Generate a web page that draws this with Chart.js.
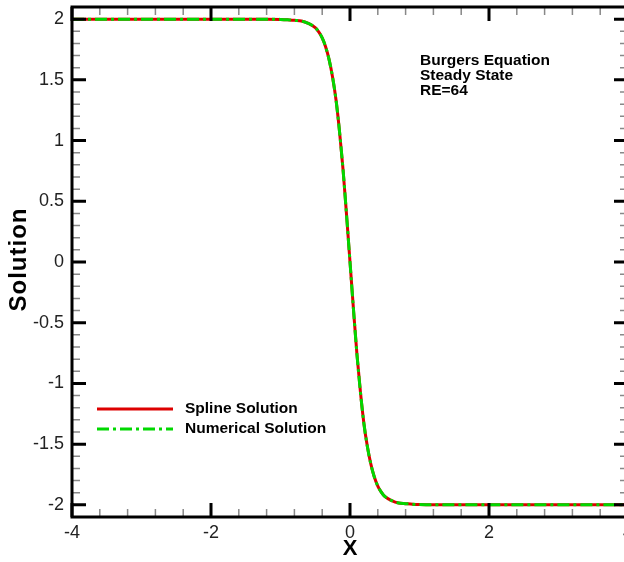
<!DOCTYPE html>
<html>
<head>
<meta charset="utf-8">
<script src="https://cdn.jsdelivr.net/npm/chart.js@4.4.1/dist/chart.umd.min.js"></script>
<style>
  html, body { margin: 0; padding: 0; background: #fff; overflow: hidden; }
  #wrap { position: relative; width: 640px; height: 562px; }
</style>
</head>
<body>
<div id="wrap"><canvas id="chart" width="640" height="562"></canvas></div>
<script>
// values
const xValues = [-4, -3, -2, -1.5, -1.2, -1.0, -0.9, -0.8, -0.7, -0.6, -0.5, -0.45, -0.4, -0.35, -0.3, -0.25, -0.2, -0.15, -0.1, -0.05,
    0, 0.05, 0.1, 0.15, 0.2, 0.25, 0.3, 0.35, 0.4, 0.45, 0.5, 0.6, 0.7, 0.8, 0.9, 1.0, 1.2, 1.5, 2, 3, 4];
const splineValues = [2, 2, 2, 2, 2, 1.998, 1.995, 1.99, 1.985, 1.965, 1.93, 1.895, 1.845, 1.77, 1.665, 1.52, 1.33, 1.07, 0.76, 0.39,
    0, -0.39, -0.76, -1.07, -1.33, -1.52, -1.665, -1.77, -1.845, -1.895, -1.93, -1.965, -1.985, -1.99, -1.995, -1.998, -2, -2, -2, -2, -2];
const numericalValues = [2, 2, 2, 2, 2, 1.998, 1.995, 1.99, 1.985, 1.965, 1.93, 1.895, 1.845, 1.77, 1.665, 1.52, 1.33, 1.07, 0.76, 0.39,
    0, -0.39, -0.76, -1.07, -1.33, -1.52, -1.665, -1.77, -1.845, -1.895, -1.93, -1.965, -1.985, -1.99, -1.995, -1.998, -2, -2, -2, -2, -2];
const xTicks = [-4, -2, 0, 2, 4];
const yTicks = [-2, -1.5, -1, -0.5, 0, 0.5, 1, 1.5, 2];
const seriesNames = ["Spline Solution", "Numerical Solution"];
const noteLines = ["Burgers Equation", "Steady State", "RE=64"];

const RED = "#dd0000";
const GREEN = "#00d800";
const GREEN_DASH = [12, 4, 3, 4];
const FONT = "'Liberation Sans', Arial, sans-serif";

function toPoints(values) {
    return xValues.map((x, i) => ({ x, y: values[i] }));
}

const framePlugin = {
    id: "frame",
    afterDraw(chart) {
        const ctx = chart.ctx;
        const area = chart.chartArea;
        const xs = chart.scales.x;
        const ys = chart.scales.y;
        ctx.save();

        // minor ticks
        ctx.strokeStyle = "#888";
        ctx.lineWidth = 1.5;
        ctx.beginPath();
        for (let i = 0; i <= 20; i++) {
            const v = -4 + i * 0.4;
            if (i % 5 === 0) continue;
            const px = xs.getPixelForValue(v);
            ctx.moveTo(px, area.bottom);
            ctx.lineTo(px, area.bottom - 8);
            ctx.moveTo(px, area.top);
            ctx.lineTo(px, area.top + 8);
        }
        for (let i = -21; i <= 21; i++) {
            if (i % 5 === 0) continue;
            const py = ys.getPixelForValue(i / 10);
            ctx.moveTo(area.left, py);
            ctx.lineTo(area.left + 8, py);
            ctx.moveTo(area.right, py);
            ctx.lineTo(area.right - 8, py);
        }
        ctx.stroke();

        // major ticks
        ctx.strokeStyle = "#000";
        ctx.lineWidth = 3;
        ctx.beginPath();
        xTicks.forEach((v) => {
            const px = xs.getPixelForValue(v);
            ctx.moveTo(px, area.bottom);
            ctx.lineTo(px, area.bottom - 14);
            ctx.moveTo(px, area.top);
            ctx.lineTo(px, area.top + 14);
        });
        yTicks.forEach((v) => {
            const py = ys.getPixelForValue(v);
            ctx.moveTo(area.left, py);
            ctx.lineTo(area.left + 14, py);
            ctx.moveTo(area.right, py);
            ctx.lineTo(area.right - 14, py);
        });
        ctx.stroke();

        // frame
        ctx.lineWidth = 3;
        ctx.strokeRect(area.left, area.top, area.right - area.left, area.bottom - area.top);

        // axis titles
        ctx.fillStyle = "#000";
        ctx.font = "bold 22px " + FONT;
        ctx.textAlign = "center";
        ctx.textBaseline = "middle";
        ctx.fillText("X", xs.getPixelForValue(0), 549);
        ctx.save();
        ctx.translate(19, 260);
        ctx.rotate(-Math.PI / 2);
        ctx.font = "bold 24px " + FONT;
        ctx.letterSpacing = "1px";
        ctx.fillText("Solution", 0.5, 0);
        ctx.restore();

        // note
        ctx.font = "bold 15.5px " + FONT;
        ctx.textAlign = "left";
        noteLines.forEach((line, i) => {
            ctx.fillText(line, 420, 61 + i * 15);
        });

        // legend
        const legendY = [409, 429];
        ctx.lineWidth = 3;
        ctx.strokeStyle = RED;
        ctx.beginPath();
        ctx.moveTo(97, legendY[0]);
        ctx.lineTo(173, legendY[0]);
        ctx.stroke();
        ctx.strokeStyle = GREEN;
        ctx.setLineDash(GREEN_DASH);
        ctx.beginPath();
        ctx.moveTo(97, legendY[1]);
        ctx.lineTo(173, legendY[1]);
        ctx.stroke();
        ctx.setLineDash([]);
        seriesNames.forEach((name, i) => {
            ctx.fillText(name, 185, legendY[i]);
        });

        ctx.restore();
    },
};

new Chart(document.getElementById("chart"), {
    type: "line",
    data: {
        datasets: [
            {
                label: seriesNames[0],
                data: toPoints(splineValues),
                borderColor: RED,
                borderWidth: 3,
                pointRadius: 0,
                cubicInterpolationMode: "monotone",
                order: 1,
            },
            {
                label: seriesNames[1],
                data: toPoints(numericalValues),
                borderColor: GREEN,
                borderWidth: 3,
                borderDash: GREEN_DASH,
                pointRadius: 0,
                cubicInterpolationMode: "monotone",
                order: 0,
            },
        ],
    },
    options: {
        responsive: false,
        animation: false,
        layout: { autoPadding: false, padding: { left: 0, top: 7, right: 12, bottom: 0 } },
        plugins: {
            legend: { display: false },
            tooltip: { enabled: false },
        },
        scales: {
            x: {
                type: "linear",
                min: -4,
                max: 4,
                grid: { display: false, drawTicks: false },
                border: { display: false },
                afterBuildTicks: (scale) => {
                    scale.ticks = xTicks.map((v) => ({ value: v }));
                },
                afterFit: (scale) => {
                    scale.height = 45;
                    scale.paddingLeft = 0;
                    scale.paddingRight = 0;
                },
                ticks: {
                    padding: 5,
                    maxRotation: 0,
                    color: "#222",
                    font: { family: FONT, size: 18 },
                    callback: (v) => String(v),
                },
            },
            y: {
                type: "linear",
                min: -2.1,
                max: 2.1,
                grid: { display: false, drawTicks: false },
                border: { display: false },
                afterBuildTicks: (scale) => {
                    scale.ticks = yTicks.map((v) => ({ value: v }));
                },
                afterFit: (scale) => {
                    scale.width = 72;
                    scale.paddingTop = 0;
                    scale.paddingBottom = 0;
                },
                ticks: {
                    padding: 8,
                    color: "#222",
                    font: { family: FONT, size: 18 },
                    callback: (v) => String(v),
                },
            },
        },
    },
    plugins: [framePlugin],
});
</script>
</body>
</html>
